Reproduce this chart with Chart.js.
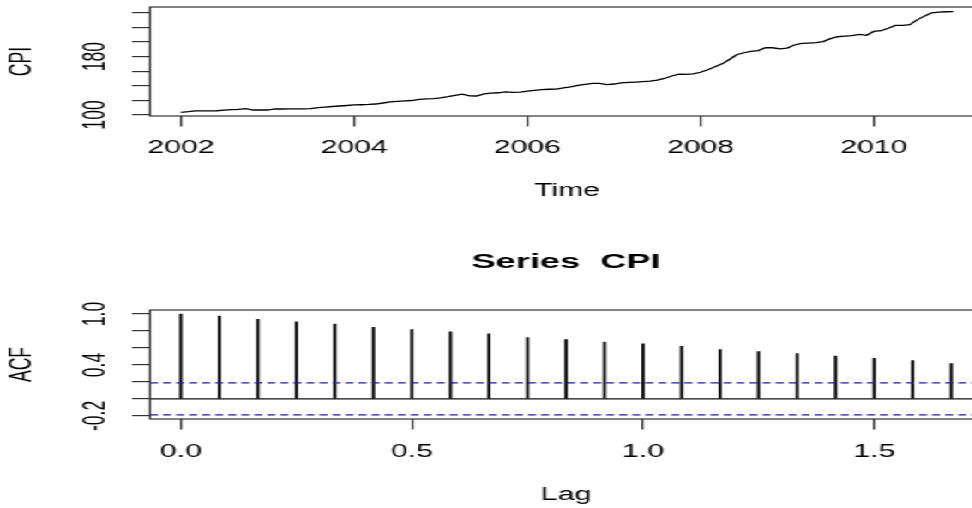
<!DOCTYPE html>
<html>
<head>
<meta charset="utf-8">
<title>CPI series and its ACF</title>
<script src="https://cdn.jsdelivr.net/npm/chart.js@4.4.1/dist/chart.umd.min.js"></script>
<style>
  html, body { margin: 0; padding: 0; background: #fff; }
  #page { position: relative; width: 972px; height: 508px; overflow: hidden; background: #fff; }
  /* the original picture is stretched sideways, so the charts are drawn narrow and widened */
  #stretch { position: absolute; left: 0; top: 0; width: 660px; height: 508px; transform: scaleX(1.715); transform-origin: 0 0; }
  .panel { position: absolute; left: 0; width: 660px; }
  #topPanel { top: 0; height: 230px; }
  #bottomPanel { top: 230px; height: 278px; }
</style>
</head>
<body>
<div id="page">
  <div id="stretch">
    <div class="panel" id="topPanel"><canvas id="cpiChart"></canvas></div>
    <div class="panel" id="bottomPanel"><canvas id="acfChart"></canvas></div>
  </div>
</div>
<script>
// --- Data (monthly CPI, Jan 2002 - Dec 2010) ---
const cpiStartYear = 2002;
const cpiValues = [
  103.7, 104.5, 105.5, 105.5, 105.6, 105.8, 106.5, 107.2, 107.8, 108.6, 106.8, 106.8,
  106.8, 108.2, 108.2, 108.3, 108.3, 108.4, 108.6, 110.0, 110.8, 111.6, 112.3, 113.0,
  113.7, 114.0, 114.4, 115.0, 116.4, 118.0, 118.6, 119.2, 119.8, 121.3, 122.0, 122.4,
  123.5, 125.0, 126.8, 128.5, 126.2, 126.0, 128.8, 129.8, 130.4, 131.6, 131.0, 131.4,
  132.6, 133.8, 134.8, 135.2, 135.4, 137.0, 138.5, 140.4, 142.0, 143.3, 143.3, 141.6,
  142.4, 144.0, 144.6, 145.1, 145.6, 146.2, 147.6, 150.0, 153.4, 155.8, 155.7, 156.4,
  158.5, 162.0, 166.0, 170.0, 176.0, 182.5, 185.2, 187.2, 188.2, 192.1, 192.0, 190.4,
  191.6, 195.8, 198.0, 198.4, 198.9, 200.4, 204.5, 207.1, 207.8, 208.5, 210.4, 209.0,
  214.3, 215.3, 218.8, 222.6, 222.7, 223.5, 230.2, 235.3, 239.8, 240.8, 241.3, 241.5
];
const cpiXTicks = [2002, 2004, 2006, 2008, 2010];
const cpiYTicks = [100, 120, 140, 160, 180, 200, 220, 240];
const cpiYLabels = [100, 180];

// --- Data (autocorrelation, lags 0..20 months, lag in years) ---
const acfValues = [
  1.000, 0.976, 0.937, 0.909, 0.881, 0.842, 0.818, 0.790, 0.766, 0.724, 0.700,
  0.671, 0.648, 0.620, 0.581, 0.558, 0.534, 0.505, 0.478, 0.451, 0.415
];
const acfXTicks = [0, 0.5, 1.0, 1.5];
const acfYTicks = [-0.2, 0, 0.2, 0.4, 0.6, 0.8, 1.0];
const acfYLabels = [-0.2, 0.4, 1.0];
const acfBound = 0.1886;

// --- Layout ---
const SX = 1.715;
const FONT = '"Liberation Sans", Arial, Helvetica, sans-serif';
const FONT_SIZE = 17.6;
const INK = '#333';
const CI_BLUE = '#1d1d9e';

Chart.defaults.font.family = FONT;
Chart.defaults.color = '#000';

const setTicks = list => scale => { scale.ticks = list.map(v => ({ value: v })); };

// draws the R style box and the rotated y tick labels
function makeFrame(labelValues, format) {
  return {
    id: 'rFrame',
    afterDraw(chart) {
      const { ctx, chartArea: a } = chart;
      const y = chart.scales.y;
      ctx.save();
      ctx.strokeStyle = INK;
      ctx.lineWidth = 1.2;
      ctx.strokeRect(a.left, a.top, a.right - a.left, a.bottom - a.top);
      ctx.fillStyle = '#000';
      ctx.font = FONT_SIZE + 'px ' + FONT;
      ctx.textAlign = 'center';
      ctx.textBaseline = 'middle';
      labelValues.forEach(v => {
        ctx.save();
        ctx.translate(95.7 / SX, y.getPixelForValue(v));
        ctx.rotate(-Math.PI / 2);
        ctx.fillText(format(v), 0, 0);
        ctx.restore();
      });
      ctx.restore();
    }
  };
}

function tickGrid() {
  return { display: true, drawOnChartArea: false, drawTicks: true, tickLength: 10.5, color: INK, lineWidth: 1.2 };
}

// --- Top panel: CPI against time ---
new Chart(document.getElementById('cpiChart'), {
  type: 'line',
  data: {
    datasets: [{
      data: cpiValues.map((v, i) => ({ x: cpiStartYear + i / 12, y: v })),
      borderColor: '#000',
      borderWidth: 1.3,
      pointRadius: 0,
      tension: 0,
      fill: false
    }]
  },
  options: {
    responsive: true,
    maintainAspectRatio: false,
    animation: false,
    events: [],
    layout: { padding: { top: 7, right: 660 - 984 / SX, left: 0, bottom: 0 } },
    plugins: { legend: { display: false }, tooltip: { enabled: false } },
    scales: {
      x: {
        type: 'linear',
        min: 2001.643,
        max: 2011.273,
        afterBuildTicks: setTicks(cpiXTicks),
        afterFit: s => { s.height = 230 - 116; },
        grid: tickGrid(),
        border: { display: false },
        ticks: { autoSkip: false, maxRotation: 0, padding: 11.4, font: { size: FONT_SIZE }, callback: v => String(v) },
        title: { display: true, text: 'Time', font: { size: FONT_SIZE }, padding: { top: 0, bottom: 28.4 } }
      },
      y: {
        type: 'linear',
        min: 98.6,
        max: 247.8,
        afterBuildTicks: setTicks(cpiYTicks),
        afterFit: s => { s.width = 150 / SX; },
        grid: tickGrid(),
        border: { display: false },
        ticks: { display: false },
        title: { display: true, text: 'CPI', font: { size: FONT_SIZE }, padding: { top: 2.85, bottom: 0 } }
      }
    }
  },
  plugins: [makeFrame(cpiYLabels, v => String(v))]
});

// --- Bottom panel: ACF of the series ---
const acfXMin = -0.0667;
const acfXMax = 1.7333;

new Chart(document.getElementById('acfChart'), {
  type: 'bar',
  data: {
    datasets: [
      {
        type: 'line',
        data: [{ x: acfXMin, y: acfBound }, { x: acfXMax, y: acfBound }],
        borderColor: CI_BLUE,
        borderWidth: 1.2,
        borderDash: [4.7, 2.9],
        pointRadius: 0
      },
      {
        type: 'line',
        data: [{ x: acfXMin, y: -acfBound }, { x: acfXMax, y: -acfBound }],
        borderColor: CI_BLUE,
        borderWidth: 1.2,
        borderDash: [4.7, 2.9],
        pointRadius: 0
      },
      {
        type: 'line',
        data: [{ x: acfXMin, y: 0 }, { x: acfXMax, y: 0 }],
        borderColor: '#111',
        borderWidth: 1.2,
        pointRadius: 0
      },
      {
        type: 'bar',
        data: acfValues.map((v, i) => ({ x: i / 12, y: v })),
        backgroundColor: '#000',
        borderWidth: 0,
        barThickness: 1.15
      }
    ]
  },
  options: {
    responsive: true,
    maintainAspectRatio: false,
    animation: false,
    events: [],
    layout: { padding: { top: 0, right: 660 - 982 / SX, left: 0, bottom: 0 } },
    plugins: {
      legend: { display: false },
      tooltip: { enabled: false },
      title: {
        display: true,
        fullSize: false,
        text: 'Series  CPI',
        color: '#000',
        font: { size: 21.1, weight: 'bold', lineHeight: 1.2 },
        padding: { top: 19.34, bottom: 35.34 }
      }
    },
    scales: {
      x: {
        type: 'linear',
        offset: false,
        min: acfXMin,
        max: acfXMax,
        afterBuildTicks: setTicks(acfXTicks),
        afterFit: s => { s.height = 278 - 189; },
        grid: Object.assign(tickGrid(), { offset: false }),
        border: { display: false },
        ticks: { autoSkip: false, maxRotation: 0, padding: 11.6, font: { size: FONT_SIZE }, callback: v => v.toFixed(1) },
        title: { display: true, text: 'Lag', font: { size: FONT_SIZE }, padding: { top: 0, bottom: 2.4 } }
      },
      y: {
        type: 'linear',
        min: -0.2363,
        max: 1.0475,
        afterBuildTicks: setTicks(acfYTicks),
        afterFit: s => { s.width = 150 / SX; },
        grid: tickGrid(),
        border: { display: false },
        ticks: { display: false },
        title: { display: true, text: 'ACF', font: { size: FONT_SIZE }, padding: { top: 2.85, bottom: 0 } }
      }
    }
  },
  plugins: [makeFrame(acfYLabels, v => v.toFixed(1))]
});
</script>
</body>
</html>
